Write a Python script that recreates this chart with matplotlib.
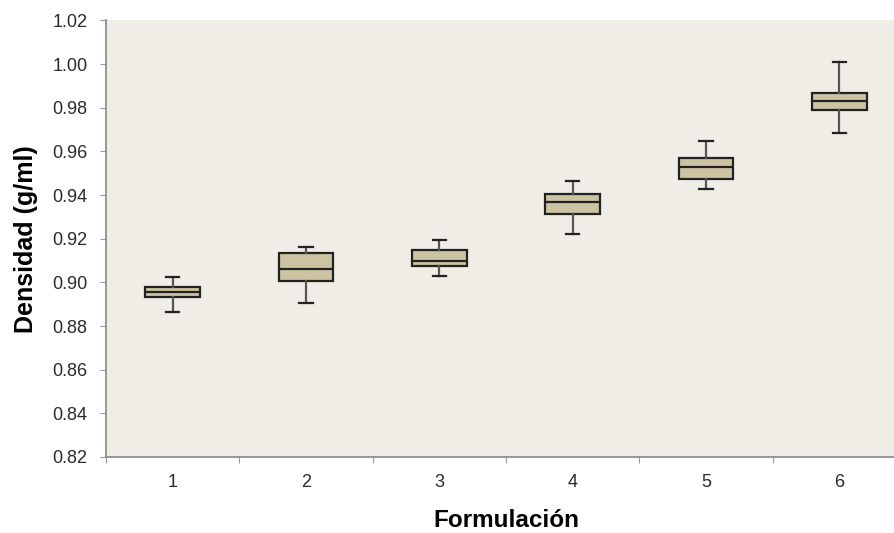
import matplotlib
matplotlib.use("Agg")
import matplotlib.pyplot as plt

# Datos
formulaciones = ["1", "2", "3", "4", "5", "6"]
whisker_lo = [0.8863, 0.8907, 0.9031, 0.9223, 0.9428, 0.9686]
q1 = [0.8934, 0.9008, 0.9074, 0.9312, 0.9472, 0.9789]
mediana = [0.8957, 0.9060, 0.9099, 0.9368, 0.9530, 0.9831]
q3 = [0.8978, 0.9133, 0.9148, 0.9405, 0.9569, 0.9869]
whisker_hi = [0.9023, 0.9163, 0.9193, 0.9463, 0.9649, 1.0008]
y_ticks = [0.82, 0.84, 0.86, 0.88, 0.90, 0.92, 0.94, 0.96, 0.98, 1.00, 1.02]


def main() -> None:
    """dibuja el boxplot"""
    plt.rcParams["font.family"] = ["Liberation Sans", "DejaVu Sans"]
    fig = plt.figure(figsize=(8.95, 5.33), dpi=100)
    ax = fig.add_axes([0.1184, 0.1426, 0.894, 0.819])
    ax.set_facecolor("#efede6")

    stats = []
    for i in range(len(formulaciones)):
        stats.append({
            "whislo": whisker_lo[i], "q1": q1[i], "med": mediana[i],
            "q3": q3[i], "whishi": whisker_hi[i], "fliers": [],
        })
    pos = list(range(1, len(formulaciones) + 1))
    ax.bxp(stats, positions=pos, widths=0.41, patch_artist=True,
           showfliers=False,
           boxprops=dict(facecolor="#cbc3a2", edgecolor="#222222", linewidth=1.6),
           medianprops=dict(color="#222222", linewidth=1.6),
           whiskerprops=dict(color="#555555", linewidth=1.6),
           capprops=dict(color="#222222", linewidth=1.6),
           capwidths=0.1, zorder=3)

    ax.set_xlim(0.5, 6.5)
    ax.set_ylim(0.82, 1.02)
    ax.set_yticks(y_ticks)
    ax.set_yticklabels([f"{v:.2f}" for v in y_ticks])
    ax.set_xticks([p - 0.5 for p in pos] + [6.5])
    ax.set_xticklabels([])
    ax.set_xticks(pos, minor=True)
    ax.set_xticklabels(formulaciones, minor=True)
    ax.tick_params(axis="x", which="minor", length=0, pad=12)
    ax.tick_params(axis="x", which="major", length=4.3, color="#999999")
    ax.tick_params(axis="y", length=4.3, color="#999999", pad=9)
    ax.tick_params(which="both", labelsize=13, labelcolor="#2a2a2a")

    for s in ["top", "right"]:
        ax.spines[s].set_visible(False)
    for s in ["left", "bottom"]:
        ax.spines[s].set_color("#888888")
        ax.spines[s].set_linewidth(1.2)

    ax.set_ylabel("Densidad (g/ml)", fontsize=18, fontweight="bold")
    ax.yaxis.set_label_coords(-0.085, 0.5)
    ax.set_xlabel("Formulación", fontsize=17.5, fontweight="bold")
    ax.xaxis.set_label_coords(0.5, -0.118)

    fig.savefig("out.png", dpi=100)


if __name__ == "__main__":
    main()
